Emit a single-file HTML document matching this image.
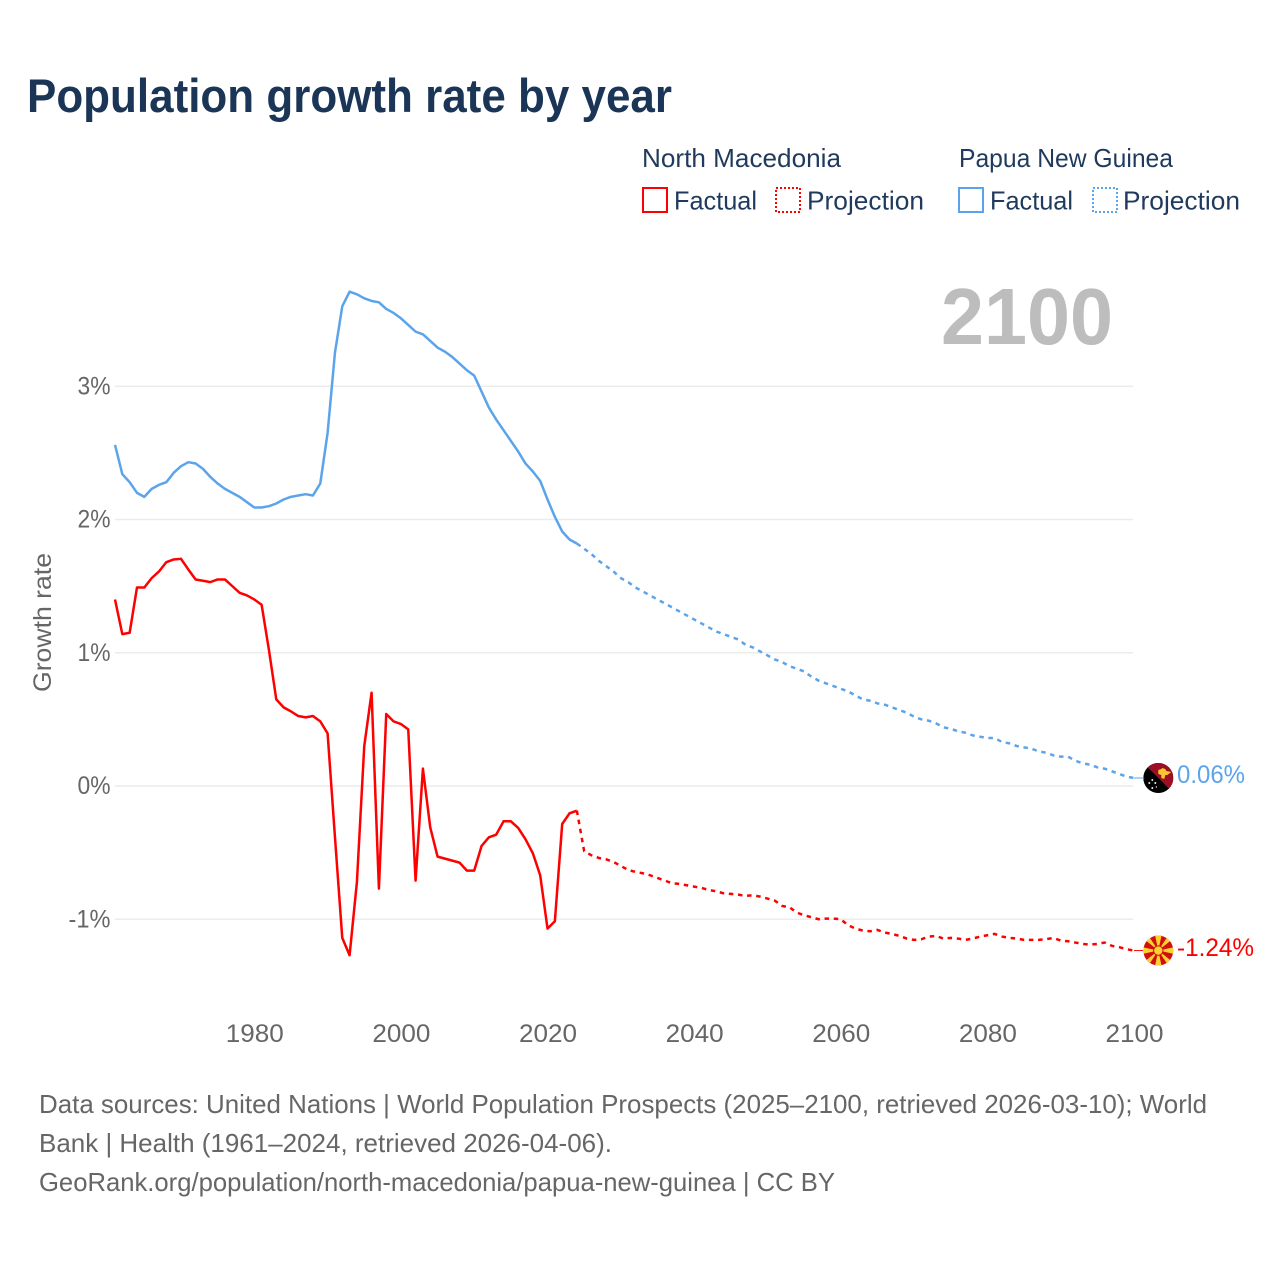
<!DOCTYPE html>
<html lang="en">
<head>
<meta charset="utf-8">
<title>Population growth rate by year</title>
<style>
html,body{margin:0;padding:0;background:#fff;width:1280px;height:1280px;overflow:hidden}
svg{display:block;font-family:"Liberation Sans",sans-serif}
</style>
</head>
<body>
<svg id="chart" xmlns="http://www.w3.org/2000/svg" width="1280" height="1280" viewBox="0 0 1280 1280">
  <rect width="1280" height="1280" fill="#fff"/>
  <text x="27" y="112" font-size="47" font-weight="700" fill="#1a3556" textLength="645" lengthAdjust="spacingAndGlyphs">Population growth rate by year</text>

  <g font-size="26" fill="#1f3a5c">
    <text x="642" y="167" textLength="199" lengthAdjust="spacingAndGlyphs">North Macedonia</text>
    <text x="959" y="167" textLength="214" lengthAdjust="spacingAndGlyphs">Papua New Guinea</text>
    <rect x="643" y="188" width="24" height="24" fill="none" stroke="#ff0000" stroke-width="2"/>
    <text x="674" y="209.5" textLength="83" lengthAdjust="spacingAndGlyphs">Factual</text>
    <rect x="776" y="188" width="24" height="24" fill="none" stroke="#ff0000" stroke-width="2" stroke-dasharray="2 2"/>
    <text x="807" y="209.5" textLength="117" lengthAdjust="spacingAndGlyphs">Projection</text>
    <rect x="959" y="188" width="24" height="24" fill="none" stroke="#5ba4ec" stroke-width="2"/>
    <text x="990" y="209.5" textLength="83" lengthAdjust="spacingAndGlyphs">Factual</text>
    <rect x="1093" y="188" width="24" height="24" fill="none" stroke="#5ba4ec" stroke-width="2" stroke-dasharray="2 2"/>
    <text x="1123" y="209.5" textLength="117" lengthAdjust="spacingAndGlyphs">Projection</text>
  </g>

  <text x="1113" y="344" text-anchor="end" font-size="80" font-weight="700" fill="#bdbdbd" textLength="172" lengthAdjust="spacingAndGlyphs">2100</text>
  <text transform="translate(51,692) rotate(-90)" font-size="25" fill="#666" textLength="139" lengthAdjust="spacingAndGlyphs">Growth rate</text>

  <g id="grid"></g>
  <g id="yticks"></g>
  <g id="xticks"></g>
  <g id="series"></g>

  <defs>
    <clipPath id="clip-pg"><circle id="clip-pg-c" cx="0" cy="0" r="15"/></clipPath>
    <clipPath id="clip-mk"><circle id="clip-mk-c" cx="0" cy="0" r="15"/></clipPath>
  </defs>

  <g id="flag-pg">
    <g clip-path="url(#clip-pg)">
      <rect x="-15" y="-15" width="30" height="30" fill="#000"/>
      <polygon points="-15,-15 15,-15 15,15" fill="#9b0e23"/>
      <path d="M0,-8 L3,-9 L4,-10 L7,-9 L8,-7 L13,-6 L9,-3 L7,-3 L6,1 L3,0 L3,-3 L0,-4 Z" fill="#f7c52d"/>
      <g fill="#e8e8e8">
        <circle cx="-6" cy="2" r="1"/><circle cx="-9" cy="5" r="1"/><circle cx="-3" cy="5" r="1"/><circle cx="-6" cy="10" r="1"/><circle cx="-2" cy="9" r="0.7"/>
      </g>
    </g>
  </g>
  <g id="flag-mk">
    <g clip-path="url(#clip-mk)">
      <rect x="-15" y="-15" width="30" height="30" fill="#d20f10"/>
      <g fill="#f9d22f">
        <polygon points="-3.2,-15 3.2,-15 0,0"/><polygon points="-3.2,15 3.2,15 0,0"/>
        <polygon points="-15,-3.2 -15,3.2 0,0"/><polygon points="15,-3.2 15,3.2 0,0"/>
        <polygon points="-15,-12 -10,-15 0,0"/><polygon points="15,-12 10,-15 0,0"/>
        <polygon points="-15,12 -10,15 0,0"/><polygon points="15,12 10,15 0,0"/>
      </g>
      <circle r="5.2" fill="#d20f10"/>
      <circle r="4.2" fill="#f9d22f"/>
    </g>
  </g>

  <text id="label-pg" x="1177" y="783" font-size="25" fill="#5ba4ec" textLength="68" lengthAdjust="spacingAndGlyphs">0.06%</text>
  <text id="label-mk" x="1177" y="956" font-size="25" fill="#ff0000" textLength="77" lengthAdjust="spacingAndGlyphs">-1.24%</text>

  <g font-size="26" fill="#666">
    <text x="39" y="1113" textLength="1168" lengthAdjust="spacingAndGlyphs">Data sources: United Nations | World Population Prospects (2025–2100, retrieved 2026-03-10); World</text>
    <text x="39" y="1152" textLength="573" lengthAdjust="spacingAndGlyphs">Bank | Health (1961–2024, retrieved 2026-04-06).</text>
    <text x="39" y="1191" textLength="796" lengthAdjust="spacingAndGlyphs">GeoRank.org/population/north-macedonia/papua-new-guinea | CC BY</text>
  </g>
</svg>

<script>
const firstFactualYear = 1961;
const firstProjectionYear = 2024;
const xTickLabels = [1980, 2000, 2020, 2040, 2060, 2080, 2100];
const yTickValues = [3, 2, 1, 0, -1];

const mkFactual = [1.40,1.14,1.15,1.49,1.49,1.56,1.61,1.68,1.70,1.705,1.625,1.55,1.54,1.53,1.55,1.55,1.50,1.45,1.43,1.40,1.36,1.02,0.65,0.59,0.56,0.525,0.515,0.525,0.485,0.395,-0.38,-1.14,-1.27,-0.72,0.30,0.70,-0.77,0.54,0.485,0.465,0.425,-0.71,0.13,-0.31,-0.53,-0.545,-0.56,-0.575,-0.635,-0.635,-0.45,-0.385,-0.365,-0.265,-0.265,-0.315,-0.40,-0.505,-0.67,-1.07,-1.015,-0.285,-0.205,-0.185];
const mkProjection = [-0.185,-0.49,-0.52,-0.54,-0.55,-0.57,-0.60,-0.63,-0.645,-0.655,-0.67,-0.69,-0.71,-0.73,-0.735,-0.745,-0.755,-0.765,-0.78,-0.79,-0.805,-0.81,-0.815,-0.825,-0.82,-0.83,-0.845,-0.86,-0.90,-0.91,-0.95,-0.97,-0.985,-1.00,-0.995,-0.995,-1.00,-1.045,-1.07,-1.085,-1.09,-1.08,-1.10,-1.11,-1.125,-1.145,-1.155,-1.15,-1.13,-1.125,-1.145,-1.14,-1.145,-1.155,-1.145,-1.13,-1.12,-1.11,-1.13,-1.14,-1.145,-1.155,-1.155,-1.155,-1.15,-1.14,-1.16,-1.165,-1.175,-1.185,-1.19,-1.185,-1.175,-1.20,-1.21,-1.225,-1.235];
const pgFactual = [2.56,2.34,2.28,2.20,2.17,2.23,2.26,2.28,2.35,2.40,2.43,2.42,2.38,2.32,2.27,2.23,2.20,2.17,2.13,2.09,2.09,2.10,2.12,2.15,2.17,2.18,2.19,2.18,2.27,2.65,3.25,3.60,3.71,3.69,3.66,3.64,3.63,3.58,3.55,3.51,3.46,3.41,3.39,3.34,3.29,3.26,3.22,3.17,3.12,3.08,2.96,2.84,2.75,2.67,2.59,2.51,2.42,2.36,2.29,2.15,2.02,1.91,1.85,1.82];
const pgProjection = [1.82,1.78,1.74,1.69,1.65,1.61,1.56,1.53,1.49,1.46,1.43,1.40,1.37,1.34,1.31,1.28,1.25,1.22,1.19,1.16,1.14,1.12,1.10,1.06,1.04,1.01,0.98,0.95,0.93,0.90,0.88,0.86,0.82,0.79,0.77,0.75,0.73,0.71,0.68,0.65,0.64,0.62,0.61,0.59,0.57,0.55,0.52,0.50,0.49,0.47,0.44,0.43,0.41,0.40,0.38,0.37,0.36,0.36,0.33,0.32,0.30,0.29,0.28,0.26,0.25,0.23,0.22,0.22,0.19,0.17,0.16,0.14,0.13,0.11,0.09,0.07,0.06];

const NS = 'http://www.w3.org/2000/svg';
const xScale = year => 115 + (year - 1961) * (1134 - 115) / (2100 - 1961);
const yScale = value => 786 - value * 133.25;

const grid = document.getElementById('grid');
const yticks = document.getElementById('yticks');
const xticks = document.getElementById('xticks');
const series = document.getElementById('series');

yTickValues.forEach(v => {
  const line = document.createElementNS(NS, 'line');
  
  
  line.setAttribute('x1', xScale(1961));
  line.setAttribute('x2', 1133);
  line.setAttribute('y1', yScale(v));
  line.setAttribute('y2', yScale(v));
  line.setAttribute('stroke', '#ececec');
  line.setAttribute('stroke-width', '1.5');
  grid.appendChild(line);

  const label = document.createElementNS(NS, 'text');
  
  
  label.setAttribute('x', 110.5);
  label.setAttribute('y', yScale(v) + 8);
  label.setAttribute('text-anchor', 'end');
  label.setAttribute('font-size', '25');
  label.setAttribute('fill', '#666');
  label.setAttribute('textLength', v < 0 ? '42' : '33');
  label.setAttribute('lengthAdjust', 'spacingAndGlyphs');
  label.textContent = v + '%';
  yticks.appendChild(label);
});

xTickLabels.forEach(year => {
  const label = document.createElementNS(NS, 'text');
  
  
  label.setAttribute('x', xScale(year) + 0.5);
  label.setAttribute('y', 1042);
  label.setAttribute('text-anchor', 'middle');
  label.setAttribute('font-size', '25');
  label.setAttribute('fill', '#666');
  label.setAttribute('textLength', '58');
  label.setAttribute('lengthAdjust', 'spacingAndGlyphs');
  label.textContent = year;
  xticks.appendChild(label);
});

function pathFrom(values, startYear) {
  return values.map((v, i) => (i ? 'L' : 'M') + xScale(startYear + i).toFixed(2) + ',' + yScale(v).toFixed(2)).join(' ');
}

function addLine(values, startYear, color, dashed, name) {
  const p = document.createElementNS(NS, 'path');
  
  
  p.setAttribute('d', pathFrom(values, startYear));
  p.setAttribute('fill', 'none');
  p.setAttribute('stroke', color);
  p.setAttribute('stroke-width', '2.5');
  p.setAttribute('stroke-linejoin', 'round');
  if (dashed) p.setAttribute('stroke-dasharray', '4.5 4.7');
  series.appendChild(p);
}

addLine(pgFactual, firstFactualYear, '#5ba4ec', false, 'line-papua-new-guinea-factual');
addLine(pgProjection, firstProjectionYear, '#5ba4ec', true, 'line-papua-new-guinea-projection');
addLine(mkFactual, firstFactualYear, '#ff0000', false, 'line-north-macedonia-factual');
addLine(mkProjection, firstProjectionYear, '#ff0000', true, 'line-north-macedonia-projection');

function placeEnd(values, color, flagId, connectorName) {
  const last = values[values.length - 1];
  const y = yScale(last);
  const x0 = xScale(2100);
  const c = document.createElementNS(NS, 'line');
  
  
  c.setAttribute('x1', x0);
  c.setAttribute('x2', 1143);
  c.setAttribute('y1', y);
  c.setAttribute('y2', y);
  c.setAttribute('stroke', color);
  c.setAttribute('stroke-width', '1');
  series.appendChild(c);
  document.getElementById(flagId).setAttribute('transform', 'translate(1158.3,' + y.toFixed(2) + ')');
}

placeEnd(pgProjection, '#5ba4ec', 'flag-pg', 'connector-papua-new-guinea');
placeEnd(mkProjection, '#ff0000', 'flag-mk', 'connector-north-macedonia');
</script>
</body>
</html>
